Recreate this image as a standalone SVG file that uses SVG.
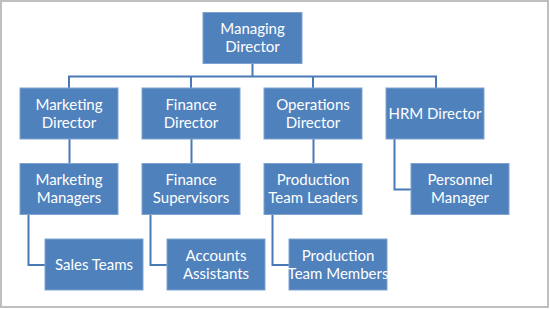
<svg xmlns="http://www.w3.org/2000/svg" width="550" height="309" viewBox="0 0 550 309">
<style>
.box{fill:#4F81BD;stroke:#7EA3D0;stroke-width:1}
.t{font-family:Lato,"Open Sans",sans-serif;font-size:15px;fill:#FFFFFF;text-anchor:middle}
.c{fill:none;stroke:#4A7AB5;stroke-width:2}
</style>
<rect x="0" y="0" width="550" height="309" fill="#FFFFFF"/>
<rect x="1" y="1" width="547" height="306" fill="none" stroke="#BFBFBF" stroke-width="2"/>
<g id="connectors">
<path class="c" d="M252.5 63V76.5M69 88V76.5H436V88M191 76.5V88M313 76.5V88"/>
<path class="c" d="M69.5 139V163M191.5 139V163M313.5 139V163"/>
<path class="c" d="M394.5 139V189.5H411"/>
<path class="c" d="M28.5 214V265H45"/>
<path class="c" d="M150.5 214V265H167"/>
<path class="c" d="M272.5 214V265H289"/>
</g>
<g id="managing"><rect class="box" x="203" y="12.5" width="99" height="51"/><text class="t" x="252.5" y="34">Managing</text><text class="t" x="252.5" y="52">Director</text></g>
<g id="marketing-director"><rect class="box" x="20" y="88" width="98" height="51"/><text class="t" x="69" y="110">Marketing</text><text class="t" x="69" y="128">Director</text></g>
<g id="finance-director"><rect class="box" x="142" y="88" width="98" height="51"/><text class="t" x="191" y="110">Finance</text><text class="t" x="191" y="128">Director</text></g>
<g id="operations-director"><rect class="box" x="264" y="88" width="98" height="51"/><text class="t" x="313" y="110">Operations</text><text class="t" x="313" y="128">Director</text></g>
<g id="hrm-director"><rect class="box" x="386" y="88" width="98" height="51"/><text class="t" x="435" y="119">HRM Director</text></g>
<g id="marketing-managers"><rect class="box" x="20" y="163.5" width="98" height="51"/><text class="t" x="69" y="185">Marketing</text><text class="t" x="69" y="203">Managers</text></g>
<g id="finance-supervisors"><rect class="box" x="142" y="163.5" width="98" height="51"/><text class="t" x="191" y="185">Finance</text><text class="t" x="191" y="203">Supervisors</text></g>
<g id="production-team-leaders"><rect class="box" x="264" y="163.5" width="98" height="51"/><text class="t" x="313" y="185">Production</text><text class="t" x="313" y="203">Team Leaders</text></g>
<g id="personnel-manager"><rect class="box" x="411" y="163.5" width="98" height="51"/><text class="t" x="460" y="185">Personnel</text><text class="t" x="460" y="203">Manager</text></g>
<g id="sales-teams"><rect class="box" x="45" y="239" width="98" height="51"/><text class="t" x="94" y="270">Sales Teams</text></g>
<g id="accounts-assistants"><rect class="box" x="167" y="239" width="98" height="51"/><text class="t" x="216" y="261">Accounts</text><text class="t" x="216" y="279">Assistants</text></g>
<g id="production-team-members"><rect class="box" x="289" y="239" width="98" height="51"/><text class="t" x="338" y="261">Production</text><text class="t" x="338" y="279">Team Members</text></g>
</svg>
